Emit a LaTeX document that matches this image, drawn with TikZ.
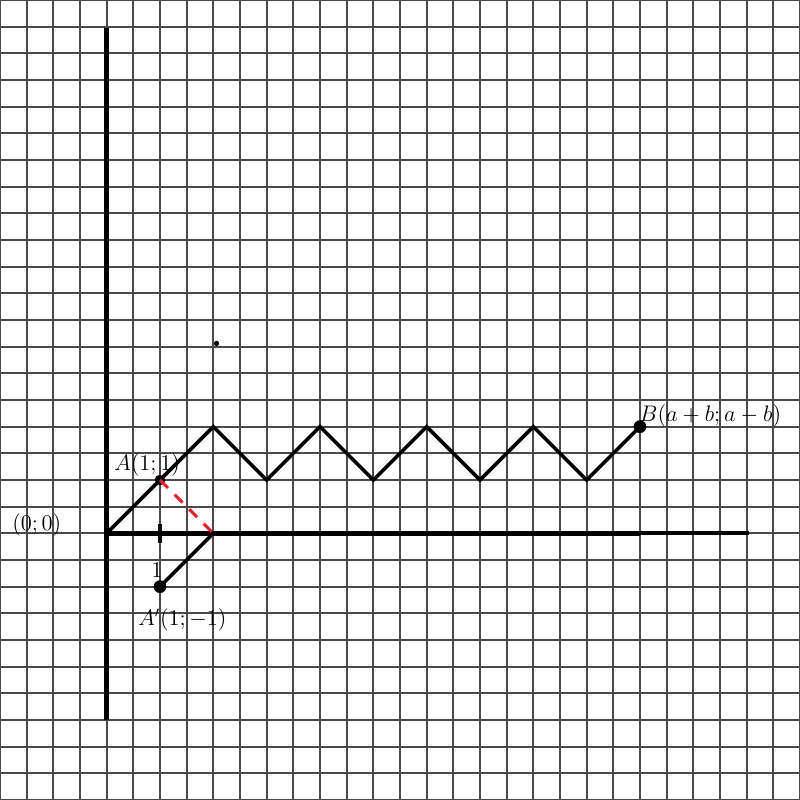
\documentclass[tikz,border=0pt]{standalone}
\usetikzlibrary{positioning}
\definecolor{gridgray}{HTML}{4A4A4A}
\definecolor{penred}{HTML}{E0202A}
\tikzset{gridline/.style={draw=gridgray,line width=1pt},
axisline/.style={draw=black,line width=2.5pt},
zigzag/.style={draw=black,line width=1.9pt,line join=miter},
reddash/.style={draw=penred,line width=1.6pt,dash pattern=on 6pt off 5pt},
dotpt/.style={circle,fill=black,inner sep=0pt,minimum size=2.4mm},
lbl/.style={font=\large,inner sep=0pt}}

\begin{document}
\begin{tikzpicture}
\useasboundingbox (-2,-5) rectangle (13,10);
\draw[gridline,step=.5] (-2,-5) grid (13,10);
% axes
\coordinate (O) at (0,0);
\coordinate (ytop) at (0,9.48);
\coordinate (ybot) at (0,-3.5);
\coordinate (xmid) at (10,0);
\coordinate (xend) at (12.05,0);
\draw[axisline] (ybot)--(ytop);
\draw[axisline] (O)--(xmid);
\draw[axisline,line width=2pt] (xmid)--(xend);
% broken line from O to B
\foreach \i in {1,...,10}\coordinate (z\i) at (\i,{2-mod(\i,2)});
\draw[zigzag] (O) foreach \i in {2,...,10}{--(z\i)};
\node[dotpt,minimum size=2mm] (A) at (z1) {};
\node[dotpt] (B) at (z10) {};
\node[dotpt] (Ap) at (1,-1) {};
\coordinate (C) at (2,0);
\draw[reddash] (A.center)--(C);
\draw[zigzag] (C)--(Ap.center);
\coordinate (t) at (1,0);
\draw[zigzag] ([yshift=-1.8mm]t)--([yshift=1.8mm]t);
\node[dotpt,minimum size=1mm] (s) at (2.06,3.56) {};
% labels
\node[lbl] (lO) at (-1.31,0.16) {$(0;0)$};
\node[lbl] (lA) at (0.76,1.28) {$A(1;1)$};
\node[lbl] (l1) at (0.94,-0.7) {$1$};
\node[lbl] (lAp) at (1.42,-1.62) {$A'(1;-1)$};
\node[lbl] (lB) at (11.32,2.2) {$B(a+b;a-b)$};
\end{tikzpicture}
\end{document}
